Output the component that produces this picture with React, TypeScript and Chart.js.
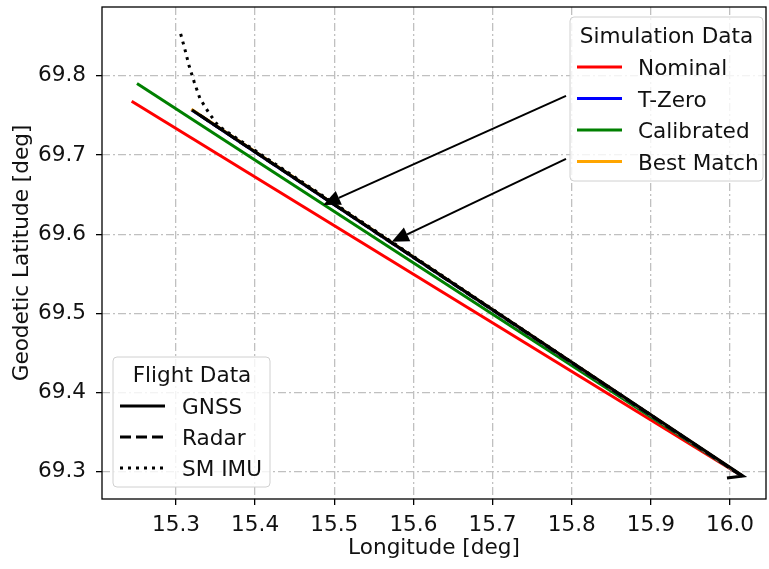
import React, { useEffect, useRef } from "react";
import { Chart, registerables } from "chart.js";

Chart.register(...registerables);

// ---- data ----
const xRange = [15.2065, 16.0455];
const yRange = [69.2655, 69.887];
const xTicks = [15.3, 15.4, 15.5, 15.6, 15.7, 15.8, 15.9, 16.0];
const yTicks = [69.3, 69.4, 69.5, 69.6, 69.7, 69.8];

const nominalLon = [15.244, 16.0152];
const nominalLat = [69.768, 69.2946];
const tZeroLon = [15.3195, 16.0152];
const tZeroLat = [69.7573, 69.2946];
const calibratedLon = [15.2507, 16.0152];
const calibratedLat = [69.7905, 69.2946];
const bestMatchLon = [15.3195, 16.0152];
const bestMatchLat = [69.7578, 69.295];

const gnssLon = [15.3202, 16.0165, 15.9962];
const gnssLat = [69.757, 69.2946, 69.292];
const radarLon = [15.33, 16.012];
const radarLat = [69.7505, 69.2966];
const imuLon = [15.3059, 15.3114, 15.3168, 15.3231, 15.3303, 15.3413, 15.3534, 16.0152];
const imuLat = [69.8531, 69.8329, 69.8118, 69.792, 69.7713, 69.7536, 69.7368, 69.2946];

const arrowTailLon = [15.7928, 15.7928];
const arrowTailLat = [69.7747, 69.6951];
const arrowTipLon = [15.4861, 15.5726];
const arrowTipLat = [69.637, 69.5906];

const simLabels = ["Nominal", "T-Zero", "Calibrated", "Best Match"];
const simColors = ["#ff0000", "#0000ff", "#008000", "#ffa500"];
const flightLabels = ["GNSS", "Radar", "SM IMU"];
const flightDashes = [[], [11, 5], [3, 5]];

const FONT = "DejaVu Sans";
const FSIZE = 21.6;
const TEXT = "#111111";

const pts = (xs: number[], ys: number[]) => xs.map((x, i) => ({ x, y: ys[i] }));

const annotationsPlugin = {
  id: "annotations",
  afterDatasetsDraw(chart: any) {
    const { ctx, chartArea, scales } = chart;
    const sx = scales.x;
    const sy = scales.y;
    ctx.save();
    for (let i = 0; i < arrowTailLon.length; i++) {
      const x1 = sx.getPixelForValue(arrowTailLon[i]);
      const y1 = sy.getPixelForValue(arrowTailLat[i]);
      const x2 = sx.getPixelForValue(arrowTipLon[i]);
      const y2 = sy.getPixelForValue(arrowTipLat[i]);
      const ang = Math.atan2(y2 - y1, x2 - x1);
      const hl = 17;
      const hw = 7.5;
      const bx = x2 - hl * Math.cos(ang);
      const by = y2 - hl * Math.sin(ang);
      ctx.strokeStyle = "#000";
      ctx.lineWidth = 2;
      ctx.beginPath();
      ctx.moveTo(x1, y1);
      ctx.lineTo(bx, by);
      ctx.stroke();
      ctx.fillStyle = "#000";
      ctx.beginPath();
      ctx.moveTo(x2, y2);
      ctx.lineTo(bx + hw * Math.sin(ang), by - hw * Math.cos(ang));
      ctx.lineTo(bx - hw * Math.sin(ang), by + hw * Math.cos(ang));
      ctx.closePath();
      ctx.fill();
    }
    ctx.strokeStyle = "#000";
    ctx.lineWidth = 1.3;
    ctx.strokeRect(chartArea.left, chartArea.top, chartArea.right - chartArea.left, chartArea.bottom - chartArea.top);
    ctx.restore();
  },
  afterDraw(chart: any) {
    const { ctx, chartArea } = chart;
    const roundBox = (x: number, y: number, w: number, h: number) => {
      const r = 4;
      ctx.beginPath();
      ctx.moveTo(x + r, y);
      ctx.lineTo(x + w - r, y);
      ctx.arcTo(x + w, y, x + w, y + r, r);
      ctx.lineTo(x + w, y + h - r);
      ctx.arcTo(x + w, y + h, x + w - r, y + h, r);
      ctx.lineTo(x + r, y + h);
      ctx.arcTo(x, y + h, x, y + h - r, r);
      ctx.lineTo(x, y + r);
      ctx.arcTo(x, y, x + r, y, r);
      ctx.closePath();
      ctx.fillStyle = "rgba(255,255,255,0.8)";
      ctx.fill();
      ctx.strokeStyle = "#d0d0d0";
      ctx.lineWidth = 1;
      ctx.stroke();
    };
    ctx.save();
    ctx.font = `${FSIZE}px "${FONT}"`;
    ctx.textBaseline = "alphabetic";

    {
      const w = 193, h = 164;
      const left = chartArea.right - 3 - w;
      const top = chartArea.top + 10;
      roundBox(left, top, w, h);
      ctx.fillStyle = TEXT;
      ctx.textAlign = "center";
      ctx.fillText("Simulation Data", left + w / 2, top + 26);
      ctx.textAlign = "left";
      simLabels.forEach((lab, i) => {
        const base = top + 58 + i * 31.5;
        ctx.strokeStyle = simColors[i];
        ctx.lineWidth = 3;
        ctx.setLineDash([]);
        ctx.beginPath();
        ctx.moveTo(left + 7, base - 8);
        ctx.lineTo(left + 52, base - 8);
        ctx.stroke();
        ctx.fillStyle = TEXT;
        ctx.fillText(lab, left + 68, base);
      });
    }
    {
      const w = 157, h = 130;
      const left = chartArea.left + 11;
      const top = chartArea.bottom - 12 - h;
      roundBox(left, top, w, h);
      ctx.fillStyle = TEXT;
      ctx.textAlign = "center";
      ctx.fillText("Flight Data", left + w / 2 + 0.5, top + 25);
      ctx.textAlign = "left";
      flightLabels.forEach((lab, i) => {
        const base = top + 57 + i * 31;
        ctx.strokeStyle = "#000";
        ctx.lineWidth = 3;
        ctx.setLineDash(flightDashes[i]);
        ctx.beginPath();
        ctx.moveTo(left + 7, base - 8);
        ctx.lineTo(left + 52, base - 8);
        ctx.stroke();
        ctx.setLineDash([]);
        ctx.fillStyle = TEXT;
        ctx.fillText(lab, left + 69, base);
      });
    }
    ctx.restore();
  },
};

export default function App() {
  const ref = useRef<HTMLCanvasElement | null>(null);

  useEffect(() => {
    if (!ref.current) return;
    const line = (label: string, xs: number[], ys: number[], color: string, dash: number[] = []) => ({
      label,
      data: pts(xs, ys),
      showLine: true,
      borderColor: color,
      backgroundColor: color,
      borderWidth: 3,
      borderDash: dash,
      pointRadius: 0,
      fill: false,
      tension: 0,
    });
    const tickFont = { family: FONT, size: FSIZE };
    const chart = new Chart(ref.current, {
      type: "scatter",
      data: {
        datasets: [
          line("GNSS", gnssLon, gnssLat, "#000000"),
          line("Radar", radarLon, radarLat, "#000000", [11, 5]),
          line("SM IMU", imuLon, imuLat, "#000000", [3, 5]),
          line("Best Match", bestMatchLon, bestMatchLat, simColors[3]),
          line("T-Zero", tZeroLon, tZeroLat, simColors[1]),
          line("Calibrated", calibratedLon, calibratedLat, simColors[2]),
          line("Nominal", nominalLon, nominalLat, simColors[0]),
        ] as any,
      },
      options: {
        responsive: false,
        animation: false,
        layout: { padding: { top: 7, right: 3, left: 0, bottom: 0 } },
        plugins: { legend: { display: false }, tooltip: { enabled: false } },
        scales: {
          x: {
            type: "linear",
            position: "bottom",
            min: xRange[0],
            max: xRange[1],
            afterFit: (s: any) => {
              s.height = 70;
              s.paddingLeft = 0;
              s.paddingRight = 0;
            },
            afterBuildTicks: (s: any) => {
              s.ticks = xTicks.map((v) => ({ value: v }));
            },
            ticks: {
              callback: (v: any) => Number(v).toFixed(1),
              color: TEXT,
              font: tickFont,
              padding: 7,
              maxRotation: 0,
              autoSkip: false,
            },
            grid: { color: "#c0c0c0", lineWidth: 1.3, tickLength: 6, tickColor: "#000", tickWidth: 1.3 },
            border: { display: false, dash: [8, 3, 2, 3] },
            title: {
              display: true,
              text: "Longitude [deg]",
              color: TEXT,
              font: tickFont,
              padding: { top: 0, bottom: 7.4 },
            },
          },
          y: {
            type: "linear",
            position: "left",
            min: yRange[0],
            max: yRange[1],
            afterFit: (s: any) => {
              s.width = 102;
              s.paddingTop = 0;
              s.paddingBottom = 0;
            },
            afterBuildTicks: (s: any) => {
              s.ticks = yTicks.map((v) => ({ value: v }));
            },
            ticks: {
              callback: (v: any) => Number(v).toFixed(1),
              color: TEXT,
              font: tickFont,
              padding: 10,
              autoSkip: false,
            },
            grid: { color: "#c0c0c0", lineWidth: 1.3, tickLength: 6, tickColor: "#000", tickWidth: 1.3 },
            border: { display: false, dash: [8, 3, 2, 3] },
            title: {
              display: true,
              text: "Geodetic Latitude [deg]",
              color: TEXT,
              font: tickFont,
              padding: { top: 9.4, bottom: 0 },
            },
          },
        },
      } as any,
      plugins: [annotationsPlugin],
    });
    return () => chart.destroy();
  }, []);

  return (
    <div style={{ position: "absolute", left: 0, top: 0, width: 769, height: 569, background: "#fff" }}>
      <canvas ref={ref} width={769} height={569} style={{ display: "block" }} />
    </div>
  );
}
